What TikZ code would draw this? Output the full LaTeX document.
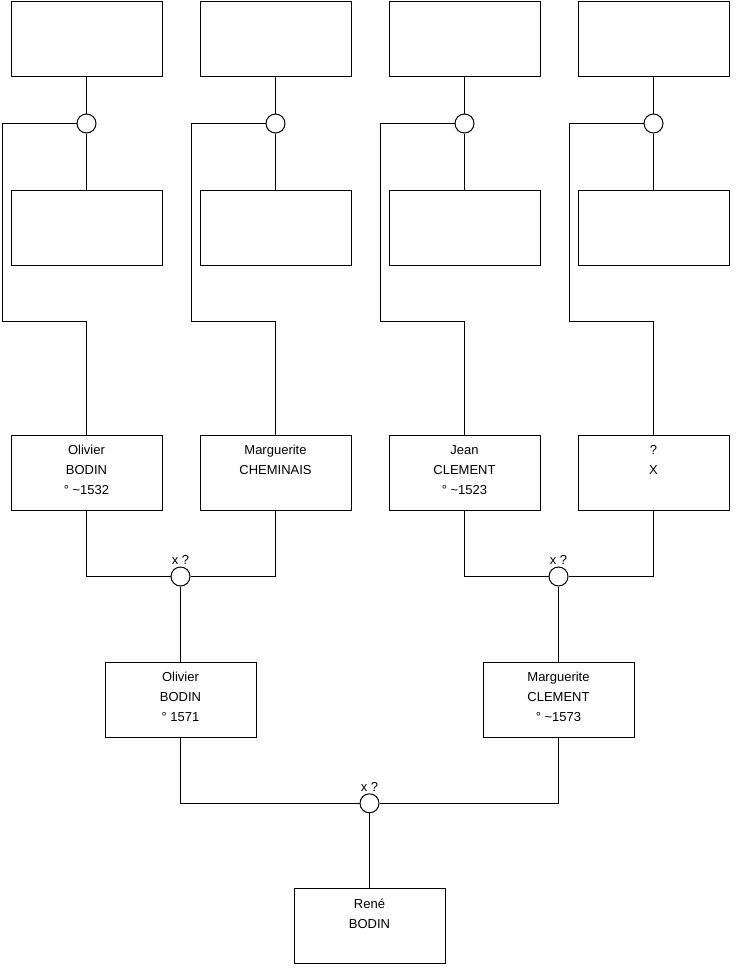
\documentclass[tikz,border=0pt]{standalone}
\usepackage{fontspec}
\setmainfont{Liberation Sans}
\begin{document}
\begin{tikzpicture}[x=0.75pt,y=-0.75pt,
  person/.style={draw, line width=0.75pt, minimum width=113.25pt, minimum height=56.25pt, inner sep=0pt},
  union/.style={draw, line width=0.75pt, circle, minimum size=14.25pt, inner sep=0pt, fill=white},
  txt/.style={anchor=north, align=center, inner sep=0pt, font=\fontsize{9.75}{15}\selectfont},
  link/.style={line width=0.75pt},
  lbl/.style={anchor=south, inner sep=1.2pt, font=\fontsize{9.75}{11}\selectfont}]
\useasboundingbox (0,0) rectangle (740,975);
% top row
\node[person] (a1) at (86.5,38.5) {};
\node[person] (a2) at (275.5,38.5) {};
\node[person] (a3) at (464.5,38.5) {};
\node[person] (a4) at (653.5,38.5) {};
% unions top
\node[union] (u1) at (86.5,123.5) {};
\node[union] (u2) at (275.5,123.5) {};
\node[union] (u3) at (464.5,123.5) {};
\node[union] (u4) at (653.5,123.5) {};
% second row
\node[person] (b1) at (86.5,227.5) {};
\node[person] (b2) at (275.5,227.5) {};
\node[person] (b3) at (464.5,227.5) {};
\node[person] (b4) at (653.5,227.5) {};
% third row
\node[person] (p1) at (86.5,472.5) {};
\node[person] (p2) at (275.5,472.5) {};
\node[person] (p3) at (464.5,472.5) {};
\node[person] (p4) at (653.5,472.5) {};
\node[txt] (tp1) at ([yshift=-4.5pt]p1.north) {\strut Olivier\\BODIN\\° \textasciitilde1532};
\node[txt] (tp2) at ([yshift=-4.5pt]p2.north) {\strut Marguerite\\CHEMINAIS};
\node[txt] (tp3) at ([yshift=-4.5pt]p3.north) {\strut Jean\\CLEMENT\\° \textasciitilde1523};
\node[txt] (tp4) at ([yshift=-4.5pt]p4.north) {\strut ?\\X};
% unions middle
\node[union] (v1) at (180.5,576.5) {};
\node[union] (v2) at (558.5,576.5) {};
\node[lbl] (lv1) at (v1.north) {x ?};
\node[lbl] (lv2) at (v2.north) {x ?};
% fourth row
\node[person] (q1) at (180.5,699.5) {};
\node[person] (q2) at (558.5,699.5) {};
\node[txt] (tq1) at ([yshift=-4.5pt]q1.north) {\strut Olivier\\BODIN\\° 1571};
\node[txt] (tq2) at ([yshift=-4.5pt]q2.north) {\strut Marguerite\\CLEMENT\\° \textasciitilde1573};
% bottom union
\node[union] (w) at (369.5,803.3) {};
\node[lbl] (lw) at (w.north) {x ?};
% bottom person
\node[person] (r) at (369.5,925.8) {};
\node[txt] (tr) at ([yshift=-4.5pt]r.north) {\strut René\\BODIN};
% bend points
\coordinate (k1) at (2,321);
\coordinate (k2) at (191,321);
\coordinate (k3) at (380,321);
\coordinate (k4) at (569,321);
% connectors top
\foreach \i in {1,2,3,4} {
  \draw[link] (a\i) -- (u\i);
  \draw[link] (u\i) -- (b\i);
  \draw[link] (u\i.west) -| (k\i) -| (p\i.north);
}
% middle connectors
\draw[link] (p1.south) |- (v1.west);
\draw[link] (p2.south) |- (v1.east);
\draw[link] (p3.south) |- (v2.west);
\draw[link] (p4.south) |- (v2.east);
\draw[link] (v1) -- (q1);
\draw[link] (v2) -- (q2);
\draw[link] (q1.south) |- (w.west);
\draw[link] (q2.south) |- (w.east);
\draw[link] (w) -- (r);
\end{tikzpicture}
\end{document}
